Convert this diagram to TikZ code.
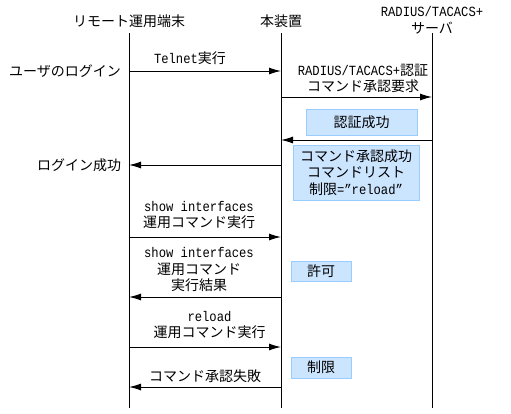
\documentclass[tikz,border=0pt]{standalone}
\usepackage{fontspec}
\setmainfont{Noto Sans CJK JP}
\newfontfamily\latinmono{Liberation Mono}[FakeStretch=0.87]
\newcommand{\lm}[1]{{\latinmono #1}}
\usetikzlibrary{arrows.meta}
\definecolor{boxfill}{HTML}{CCE5FF}
\definecolor{boxline}{HTML}{99CCFF}

\begin{document}
\begin{tikzpicture}[x=1pt,y=-1pt,
  font=\fontsize{14}{16.5}\selectfont,
  every node/.style={inner sep=0pt,align=center},
  life/.style={line width=1pt},
  msg/.style={line width=1pt,-{Latex[length=12pt,width=7pt]}},
  note/.style={draw=boxline,line width=1pt,fill=boxfill}]
\useasboundingbox (0,0) rectangle (511,413);

\node (h1) at (129,21) {リモート運用端末};
\node (h2) at (281,21) {本装置};
\node (h3) at (432,20) {\lm{RADIUS/TACACS+}\\サーバ};

\coordinate (t1) at (129,33);
\coordinate (t2) at (281,33);
\coordinate (t3) at (432,33);
\coordinate (b1) at (129,408);
\coordinate (b2) at (281,408);
\coordinate (b3) at (432,408);

\coordinate (11) at (129,71);
\coordinate (12) at (281,71);
\coordinate (22) at (281,97);
\coordinate (23) at (432,97);
\coordinate (32) at (281,140);
\coordinate (33) at (432,140);
\coordinate (41) at (129,165);
\coordinate (42) at (281,165);
\coordinate (51) at (129,237);
\coordinate (52) at (281,237);
\coordinate (61) at (129,297);
\coordinate (62) at (281,297);
\coordinate (71) at (129,347);
\coordinate (72) at (281,347);
\coordinate (81) at (129,387);
\coordinate (82) at (281,387);

\node (l0) at (65,71) {ユーザのログイン};
\node (l1) at (190,58) {\lm{Telnet}実行};
\node (l2) at (363,78.5) {\lm{RADIUS/TACACS+}認証\\コマンド承認要求};
\node[note,minimum width=111pt,minimum height=26pt] (n1) at (361.5,122) {認証成功};
\node[note,minimum width=126pt,minimum height=55pt] (n2) at (356,172.5) {コマンド承認成功\\コマンドリスト\\制限\lm{=”reload”}};
\node (l3) at (79,165) {ログイン成功};
\node (l4) at (199,215) {\lm{show interfaces}\\運用コマンド実行};
\node (l5) at (199,270) {\lm{show interfaces}\\運用コマンド\\実行結果};
\node[note,minimum width=60pt,minimum height=20pt] (n3) at (321,271) {許可};
\node (l6) at (209.5,325) {\lm{reload}\\運用コマンド実行};
\node[note,minimum width=60pt,minimum height=21pt] (n4) at (321,367.5) {制限};
\node (l7) at (205,376) {コマンド承認失敗};

\draw[life] (t1) -- (b1) (t2) -- (b2) (t3) -- (b3);
\draw[msg] (11) -- (12);
\draw[msg] (22) -- (23);
\draw[msg] (33) -- (32);
\draw[msg] (42) -- (41);
\draw[msg] (51) -- (52);
\draw[msg] (62) -- (61);
\draw[msg] (71) -- (72);
\draw[msg] (82) -- (81);
\end{tikzpicture}
\end{document}
